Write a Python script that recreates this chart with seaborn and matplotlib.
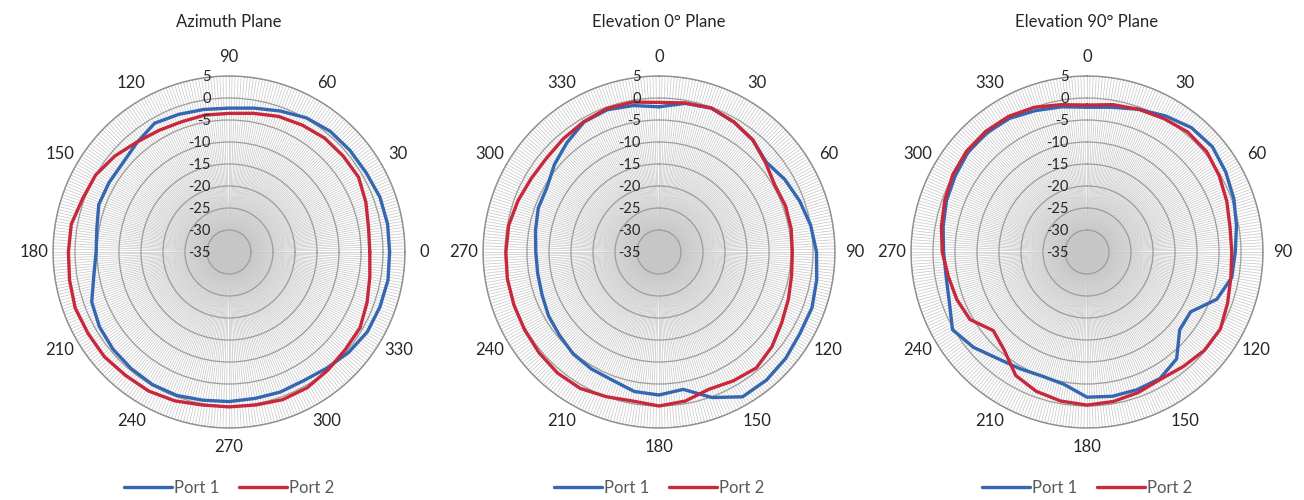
import numpy as np
import pandas as pd
import matplotlib
matplotlib.use("Agg")
import matplotlib.pyplot as plt
import seaborn as sns

# --- Data: gain in dB, read every 10 degrees ---
ANGLES = np.arange(0, 360, 10)
PORTS = ["Port 1", "Port 2"]
TITLES = ["Azimuth Plane", "Elevation 0\u00b0 Plane", "Elevation 90\u00b0 Plane"]
R_TICKS = [5, 0, -5, -10, -15, -20, -25, -30, -35]

AZ_PORT1 = [1.5, 1.6, 1.5, 1.0, 0.9, 0.8, 0.2, -0.9, -1.8, -2.3, -2.1, -1.7,
            -1.2, -2.5, -3.5, -3.5, -3.5, -4.5, -4.8, -3.8, -1.8, -1.0, -0.6, -0.4,
            -0.2, -0.3, -0.8, -1.0, -1.2, -1.1, -1.2, -0.5, 0.5, 1.3, 1.5, 1.7]
AZ_PORT2 = [-3.0, -2.8, -1.9, -1.0, -1.1, -1.2, -1.7, -2.2, -3.0, -3.5, -3.4, -3.5,
            -3.1, -2.4, -1.1, 0.0, 0.4, 1.4, 1.5, 1.8, 2.2, 2.0, 2.0, 1.6,
            1.5, 1.0, 0.3, 0.2, 0.3, 0.7, 0.6, 0.0, -0.5, -0.6, -1.6, -2.5]

EL0_PORT1 = [-2.0, -0.7, -0.2, -0.9, -1.8, -3.2, -2.0, -1.0, 0.0, 0.8, 1.4, 2.0,
             2.0, 2.6, 3.0, 3.0, 0.2, -3.3, -2.5, -2.8, -4.0, -4.3, -4.7, -5.5,
             -6.0, -6.7, -7.0, -7.0, -6.5, -5.8, -5.6, -4.0, -2.5, -0.9, -0.6, -1.2]
EL0_PORT2 = [-1.0, -0.6, -0.2, -0.9, -1.8, -3.4, -4.6, -4.4, -4.5, -4.7, -4.4, -3.7,
             -2.8, -1.5, -0.6, -1.2, -1.8, -0.6, 0.0, -0.6, 0.0, 0.8, 0.9, 0.6,
             0.3, 0.1, 0.0, -0.2, -0.3, -0.9, -1.5, -1.7, -1.3, -0.8, -0.3, -0.4]

EL90_PORT1 = [-2.1, -1.6, -0.5, 0.7, 1.9, 2.2, 1.4, 0.5, -0.5, -1.3, -1.6, -3.6,
              -7.8, -7.5, -3.3, -1.8, -1.7, -1.7, -2.0, -4.5, -5.0, -4.4, -3.4, -1.3,
              0.3, -1.7, -2.5, -2.4, -1.8, -1.0, -0.4, 0.3, 0.4, 0.1, -0.8, -1.5]
EL90_PORT2 = [-1.6, -1.0, -0.5, 0.0, 0.6, 0.5, -0.3, -1.2, -2.0, -2.1, -1.8, -1.0,
              0.0, -0.2, -1.0, -1.6, -1.0, -0.5, -0.2, -0.6, -1.3, -2.6, -5.8, -7.2,
              -4.3, -3.5, -3.0, -2.1, -1.4, -0.6, 0.2, 0.7, 0.8, 0.6, 0.0, -1.0]

# --- Style ---
sns.set_theme(style="whitegrid")
plt.rcParams["font.family"] = ["Lato", "DejaVu Sans"]
BLUE = "#3566b0"
RED = "#c8283c"
TEXT = "#262626"

W, H = 1304, 500
R_PX = 176
CENTERS = [229, 659, 1087]
CY = 252


def build_frame(p1, p2):
    rows = []
    for name, vals in zip(PORTS, [p1, p2]):
        ang = np.append(ANGLES, 360)
        v = np.append(vals, vals[0])
        rows.append(pd.DataFrame({"theta": np.deg2rad(ang), "db": v, "port": name}))
    return pd.concat(rows, ignore_index=True)


panels = [
    (build_frame(AZ_PORT1, AZ_PORT2), "E", 1, 90),
    (build_frame(EL0_PORT1, EL0_PORT2), "N", -1, 0),
    (build_frame(EL90_PORT1, EL90_PORT2), "N", -1, 0),
]

fig = plt.figure(figsize=(W / 100, H / 100), dpi=100)
fig.patch.set_facecolor("white")

for i, (df, zero, direction, top_deg) in enumerate(panels):
    cx = CENTERS[i]
    ax = fig.add_axes([(cx - R_PX) / W, (H - CY - R_PX) / H, 2 * R_PX / W, 2 * R_PX / H],
                      projection="polar")
    ax.set_facecolor("white")
    ax.set_theta_zero_location(zero)
    ax.set_theta_direction(direction)

    sns.lineplot(data=df, x="theta", y="db", hue="port", palette={"Port 1": BLUE, "Port 2": RED},
                 sort=False, estimator=None, linewidth=2.4, ax=ax)

    ax.set_ylim(-35, 5)
    ax.set_yticks(R_TICKS)
    ax.set_yticklabels([])
    deg = np.arange(0, 360, 1)
    ax.set_xticks(np.deg2rad(deg))
    ax.set_xticklabels([str(d) if d % 30 == 0 else "" for d in deg], fontsize=12, color=TEXT)
    ax.tick_params(axis="x", pad=1)
    ax.xaxis.grid(True, color="#c6c6c6", linewidth=0.5)
    ax.yaxis.grid(True, color="#9c9c9c", linewidth=0.9)
    ax.spines["polar"].set_color("#8f8f8f")
    ax.spines["polar"].set_linewidth(1.0)
    ax.set_xlabel("")
    ax.set_ylabel("")

    # radial labels along the top spoke
    for v in R_TICKS:
        ax.annotate(str(v), xy=(np.deg2rad(top_deg), v), xytext=(-13, -1),
                    textcoords="offset points", ha="right", va="center",
                    fontsize=10.5, color=TEXT)

    handles, labels = ax.get_legend_handles_labels()
    ax.legend(handles, labels, loc="center", bbox_to_anchor=(0.5, -0.17), ncol=2,
              frameon=False, fontsize=12, handlelength=2.9, handletextpad=0.1,
              columnspacing=1.2, labelcolor="#595959")

    fig.text(cx / W, 1 - 22 / H, TITLES[i], ha="center", va="center", fontsize=12, color=TEXT)

fig.savefig("out.png", dpi=100, facecolor="white")
